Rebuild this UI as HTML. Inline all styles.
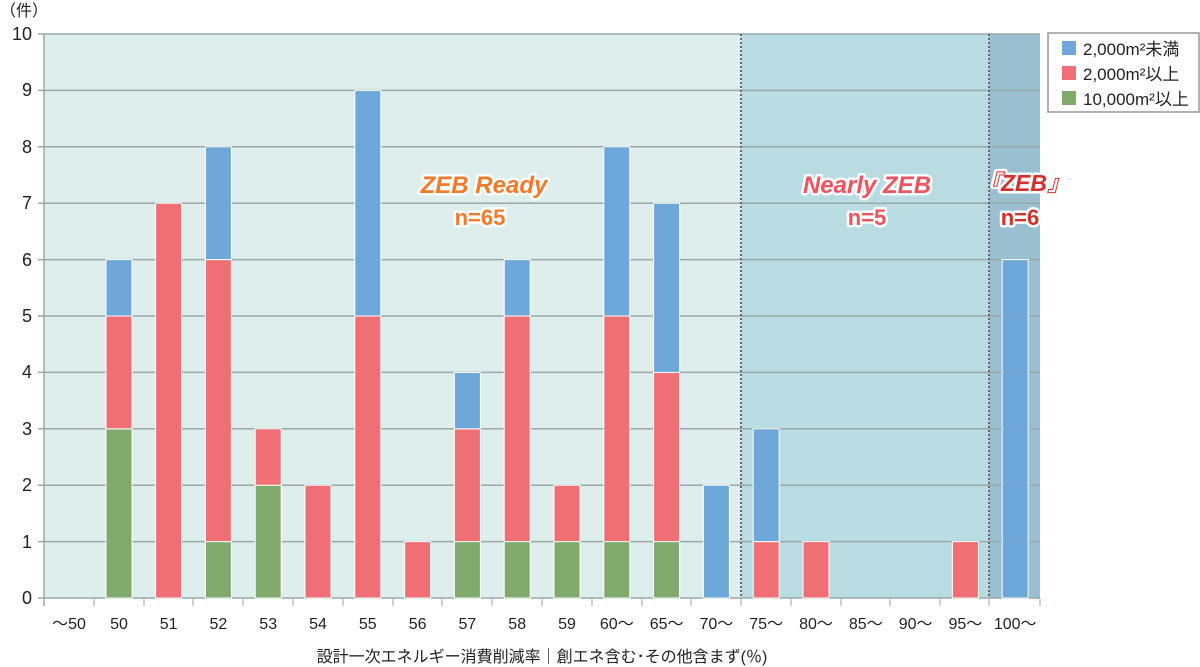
<!DOCTYPE html>
<html><head><meta charset="utf-8"><style>
body{margin:0;background:#fff}
svg{display:block;font-family:"Liberation Sans","Noto Sans CJK JP",sans-serif}
</style></head><body>
<svg width="1200" height="667" viewBox="0 0 1200 667">
<rect x="44" y="34" width="697" height="564" fill="#ddeeed"/>
<rect x="741" y="34" width="248" height="564" fill="#b9dce3"/>
<rect x="989" y="34" width="51" height="564" fill="#99bfd0"/>
<g stroke="#9aa8a8" stroke-width="1.5">
<line x1="38" x2="1040" y1="34" y2="34"/><line x1="38" x2="1040" y1="90.4" y2="90.4"/>
<line x1="38" x2="1040" y1="146.8" y2="146.8"/><line x1="38" x2="1040" y1="203.2" y2="203.2"/>
<line x1="38" x2="1040" y1="259.6" y2="259.6"/><line x1="38" x2="1040" y1="316" y2="316"/>
<line x1="38" x2="1040" y1="372.4" y2="372.4"/><line x1="38" x2="1040" y1="428.8" y2="428.8"/>
<line x1="38" x2="1040" y1="485.2" y2="485.2"/><line x1="38" x2="1040" y1="541.6" y2="541.6"/>
<line x1="38" x2="1040" y1="598" y2="598"/>
<line x1="44" x2="44" y1="34" y2="606"/>
</g>
<g stroke="#9aa8a8" stroke-width="1">
<line x1="94" x2="94" y1="598" y2="606"/><line x1="144" x2="144" y1="598" y2="606"/><line x1="193" x2="193" y1="598" y2="606"/><line x1="243" x2="243" y1="598" y2="606"/><line x1="293" x2="293" y1="598" y2="606"/><line x1="343" x2="343" y1="598" y2="606"/><line x1="393" x2="393" y1="598" y2="606"/><line x1="442" x2="442" y1="598" y2="606"/><line x1="492" x2="492" y1="598" y2="606"/><line x1="542" x2="542" y1="598" y2="606"/><line x1="592" x2="592" y1="598" y2="606"/><line x1="642" x2="642" y1="598" y2="606"/><line x1="691" x2="691" y1="598" y2="606"/><line x1="741" x2="741" y1="598" y2="606"/><line x1="791" x2="791" y1="598" y2="606"/><line x1="841" x2="841" y1="598" y2="606"/><line x1="890" x2="890" y1="598" y2="606"/><line x1="940" x2="940" y1="598" y2="606"/><line x1="989" x2="989" y1="598" y2="606"/><line x1="1040" x2="1040" y1="598" y2="606"/>
</g>
<g stroke="#667" stroke-width="2" stroke-dasharray="2,2">
<line x1="741" x2="741" y1="34" y2="598"/><line x1="989" x2="989" y1="34" y2="598"/>
</g>
<g stroke="#fff" stroke-width="1">
<rect x="106" y="428.8" width="26" height="169.2" fill="#7faa6b"/>
<rect x="106" y="316" width="26" height="112.8" fill="#ef6f75"/>
<rect x="106" y="259.6" width="26" height="56.4" fill="#6ea7da"/>
<rect x="155.6" y="203.2" width="26" height="394.8" fill="#ef6f75"/>
<rect x="205.4" y="541.6" width="26" height="56.4" fill="#7faa6b"/>
<rect x="205.4" y="259.6" width="26" height="282" fill="#ef6f75"/>
<rect x="205.4" y="146.8" width="26" height="112.8" fill="#6ea7da"/>
<rect x="255.2" y="485.2" width="26" height="112.8" fill="#7faa6b"/>
<rect x="255.2" y="428.8" width="26" height="56.4" fill="#ef6f75"/>
<rect x="305" y="485.2" width="26" height="112.8" fill="#ef6f75"/>
<rect x="354.8" y="316" width="26" height="282" fill="#ef6f75"/>
<rect x="354.8" y="90.4" width="26" height="225.6" fill="#6ea7da"/>
<rect x="404.6" y="541.6" width="26" height="56.4" fill="#ef6f75"/>
<rect x="454.4" y="541.6" width="26" height="56.4" fill="#7faa6b"/>
<rect x="454.4" y="428.8" width="26" height="112.8" fill="#ef6f75"/>
<rect x="454.4" y="372.4" width="26" height="56.4" fill="#6ea7da"/>
<rect x="504.2" y="541.6" width="26" height="56.4" fill="#7faa6b"/>
<rect x="504.2" y="316" width="26" height="225.6" fill="#ef6f75"/>
<rect x="504.2" y="259.6" width="26" height="56.4" fill="#6ea7da"/>
<rect x="554" y="541.6" width="26" height="56.4" fill="#7faa6b"/>
<rect x="554" y="485.2" width="26" height="56.4" fill="#ef6f75"/>
<rect x="603.8" y="541.6" width="26" height="56.4" fill="#7faa6b"/>
<rect x="603.8" y="316" width="26" height="225.6" fill="#ef6f75"/>
<rect x="603.8" y="146.8" width="26" height="169.2" fill="#6ea7da"/>
<rect x="653.6" y="541.6" width="26" height="56.4" fill="#7faa6b"/>
<rect x="653.6" y="372.4" width="26" height="169.2" fill="#ef6f75"/>
<rect x="653.6" y="203.2" width="26" height="169.2" fill="#6ea7da"/>
<rect x="703.4" y="485.2" width="26" height="112.8" fill="#6ea7da"/>
<rect x="753.2" y="541.6" width="26" height="56.4" fill="#ef6f75"/>
<rect x="753.2" y="428.8" width="26" height="112.8" fill="#6ea7da"/>
<rect x="803" y="541.6" width="26" height="56.4" fill="#ef6f75"/>
<rect x="952.4" y="541.6" width="26" height="56.4" fill="#ef6f75"/>
<rect x="1002.2" y="259.6" width="26" height="338.4" fill="#6ea7da"/>
</g>
<g font-size="18" fill="#222" text-anchor="end">
<text x="32" y="40">10</text><text x="32" y="96">9</text><text x="32" y="153">8</text><text x="32" y="209">7</text><text x="32" y="266">6</text><text x="32" y="322">5</text><text x="32" y="378">4</text><text x="32" y="435">3</text><text x="32" y="491">2</text><text x="32" y="548">1</text><text x="32" y="604">0</text>
</g>
<text x="0" y="16" font-size="16" fill="#222">（件）</text>
<g font-size="16" fill="#222" text-anchor="middle">
<text x="69" y="629">～50</text><text x="119" y="629">50</text><text x="168.6" y="629">51</text><text x="218.4" y="629">52</text><text x="268.2" y="629">53</text><text x="318" y="629">54</text><text x="367.8" y="629">55</text><text x="417.6" y="629">56</text><text x="467.4" y="629">57</text><text x="517.2" y="629">58</text><text x="567" y="629">59</text><text x="616.8" y="629">60～</text><text x="666.6" y="629">65～</text><text x="716.4" y="629">70～</text><text x="766.2" y="629">75～</text><text x="816" y="629">80～</text><text x="865.8" y="629">85～</text><text x="915.6" y="629">90～</text><text x="965.4" y="629">95～</text><text x="1015.2" y="629">100～</text>
<text x="542" y="662">設計一次エネルギー消費削減率｜創エネ含む･その他含まず(％)</text>
</g>
<g font-weight="bold" font-style="italic" text-anchor="middle" stroke="#fff" stroke-width="5" paint-order="stroke" stroke-linejoin="round">
<text x="484" y="193" font-size="24" fill="#f47a2a">ZEB Ready</text>
<text x="480" y="225" font-size="22" fill="#f47a2a" font-style="normal">n=65</text>
<text x="867" y="193" font-size="24" fill="#f0535e">Nearly ZEB</text>
<text x="867" y="225" font-size="22" fill="#f0535e" font-style="normal">n=5</text>
<text x="1024" y="191" font-size="23" fill="#d1302b">『ZEB』</text>
<text x="1020" y="225" font-size="22" fill="#d1302b" font-style="normal">n=6</text>
</g>
<rect x="1048" y="33" width="151" height="79" fill="#fff" stroke="#999" stroke-width="1.5"/>
<rect x="1062" y="41" width="14" height="14" fill="#6ea7da"/>
<rect x="1062" y="66" width="14" height="14" fill="#ef6f75"/>
<rect x="1062" y="91" width="14" height="14" fill="#7faa6b"/>
<g font-size="17" fill="#222">
<text x="1083" y="55">2,000m²未満</text>
<text x="1083" y="80">2,000m²以上</text>
<text x="1083" y="105">10,000m²以上</text>
</g>
</svg>
</body></html>
